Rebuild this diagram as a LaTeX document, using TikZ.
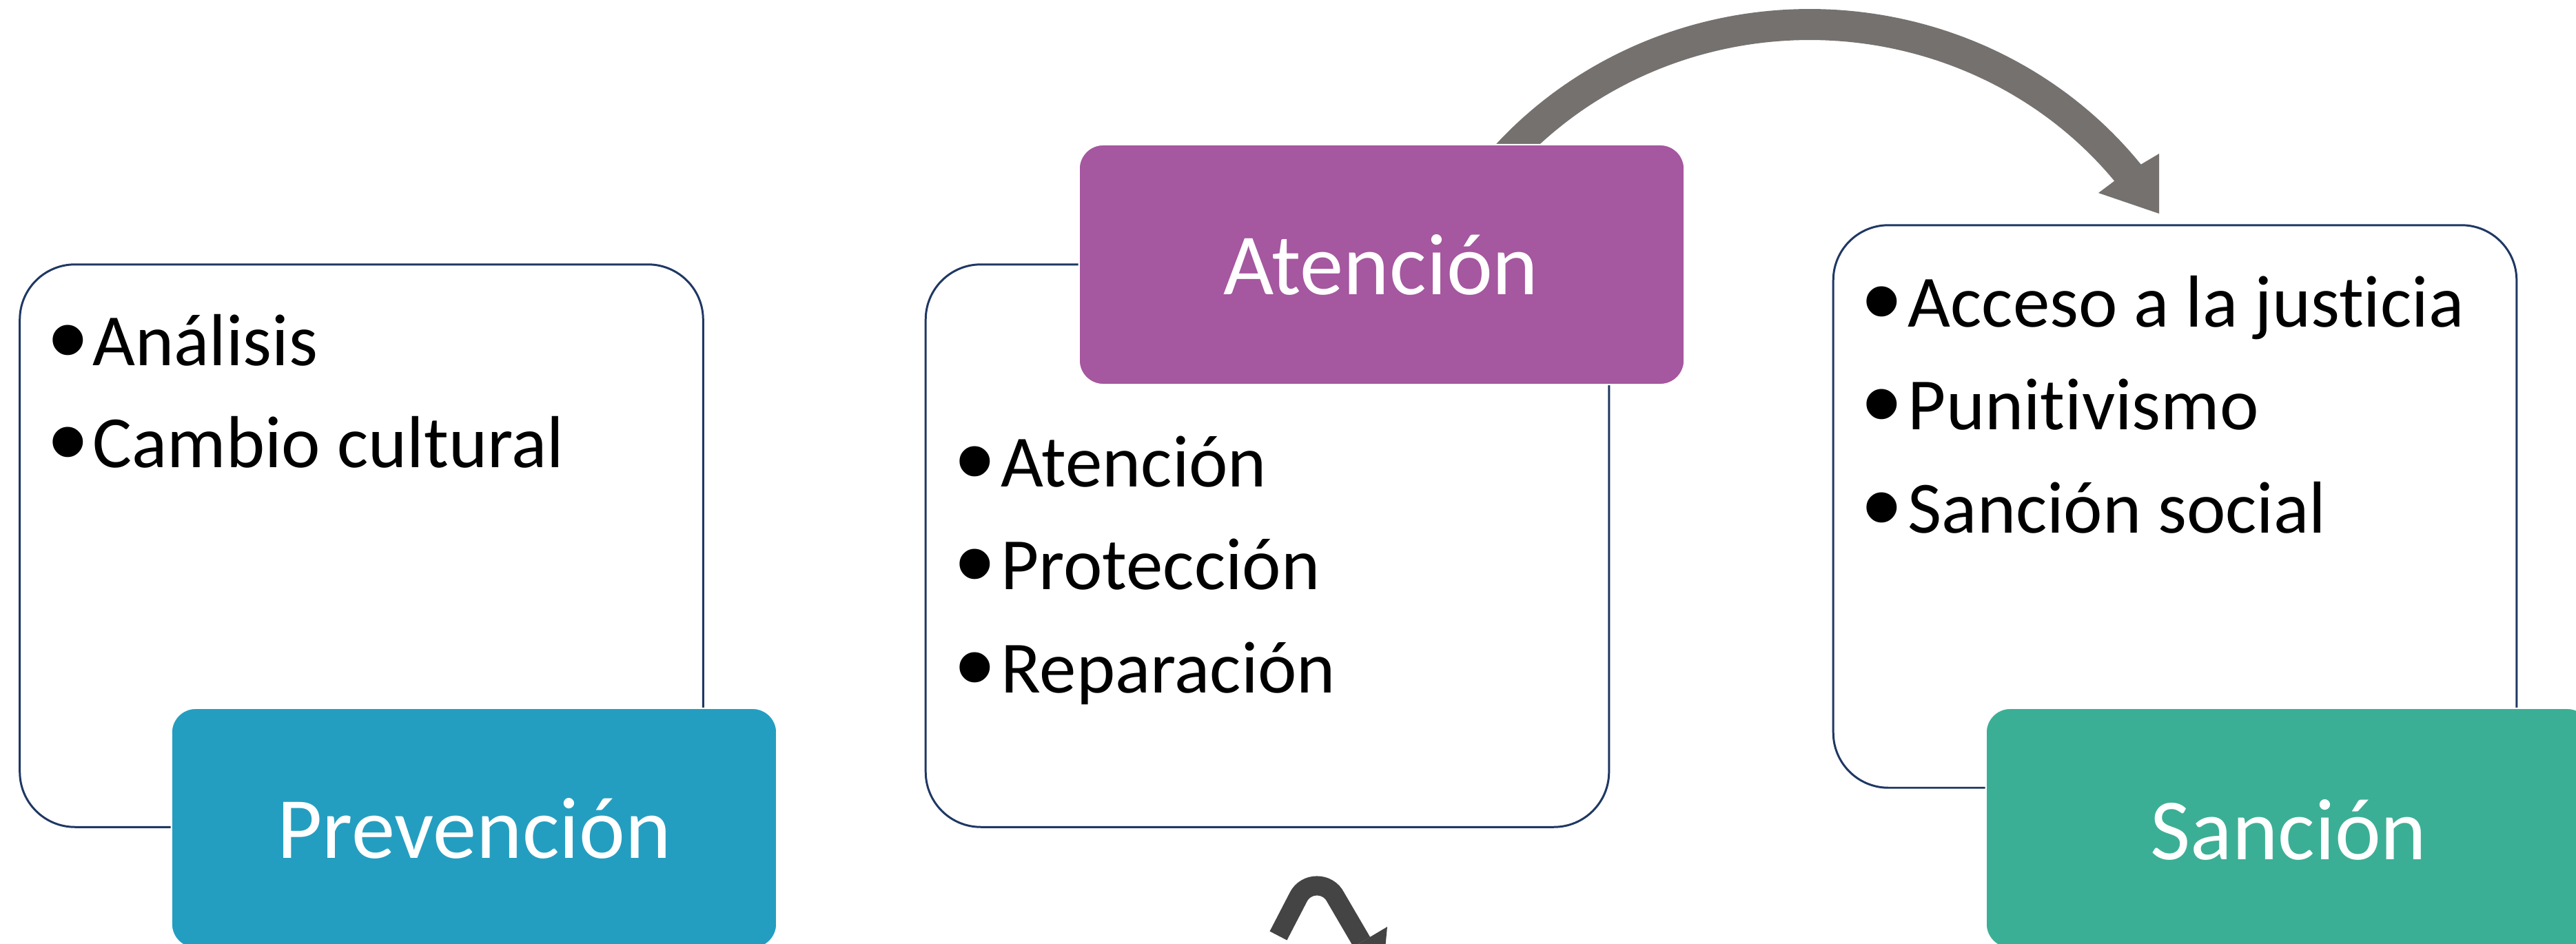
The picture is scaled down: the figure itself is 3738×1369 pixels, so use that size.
\documentclass[tikz,border=0pt]{standalone}
\usepackage{fontspec}
\setmainfont{Carlito}[Ligatures={TeX,NoCommon}]
\newfontfamily\bulfont{Liberation Sans}
\definecolor{navy}{HTML}{1F3864}
\definecolor{prevc}{HTML}{249EC0}
\definecolor{atenc}{HTML}{A5579F}
\definecolor{sancc}{HTML}{3BAF95}
\definecolor{arrowgray}{HTML}{75716F}
\definecolor{arrowdark}{HTML}{444444}
\tikzset{
  listbox/.style={draw=navy, line width=0.85pt, fill=white, rounded corners=0.8cm,
    minimum width=9.91cm, minimum height=8.16cm, inner sep=0pt, outer sep=0pt},
  headbox/.style={draw=white, line width=0.6pt, rounded corners=0.35cm,
    minimum width=8.78cm, minimum height=3.48cm, inner sep=0pt, outer sep=0pt},
  headtext/.style={text=white, font=\fontsize{36}{43}\selectfont, anchor=base, inner sep=0pt},
  itemtext/.style={font=\fontsize{30.4}{36}\selectfont, anchor=base west, inner sep=0pt},
  bulletmark/.style={font=\bulfont\fontsize{46}{50}\selectfont, anchor=base, inner sep=0pt},
}
\newcommand{\bul}{\raisebox{-5.1pt}{•}}
\begin{document}
\begin{tikzpicture}[x=0.01cm,y=-0.01cm]
\useasboundingbox (0,0) rectangle (3738,1369);
\fill[white] (0,0) rectangle (3738,1369);
\clip (0,0) rectangle (3738,1369);

% curved arrow over the top (Atencion -> Sancion)
\coordinate (tipA) at (3133,310);
\fill[arrowgray] plot[domain=217.8:322, samples=90] ({2626+610*cos(\x)},{600+587*sin(\x)})
  -- (3133,223) -- (tipA) -- (3045,280)
  -- plot[domain=321.5:221.6, samples=90] ({2626+565*cos(\x)},{600+542*sin(\x)}) -- cycle;

% small arrow at the bottom
\coordinate (tailB) at (1855,1358);
\coordinate (endB) at (1976,1367);
\draw[arrowdark, line width=8pt] (tailB) -- (1884,1302) .. controls (1895,1280) and (1927,1280) .. (1938,1302) -- (endB);
\fill[arrowdark] (2013,1345) -- (2006,1419) -- (1939,1389) -- cycle;

% list boxes
\node[listbox] (boxP) at (524.5,792) {};
\node[listbox] (boxA) at (1839,792) {};
\node[listbox] (boxS) at (3156,735) {};

% header boxes
\node[headbox, fill=prevc] (headP) at (688,1202) {};
\node[headbox, fill=atenc] (headA) at (2005,384) {};
\node[headbox, fill=sancc] (headS) at (3321,1202) {};

\node[headtext] (tP) at (688,1245) {Prevención};
\node[headtext] (tA) at (2004,427) {Atención};
\node[headtext] (tS) at (3321,1247) {Sanción};

% items: Prevencion
\node[bulletmark] (bP1) at (99,530) {\bul};
\node[itemtext] (iP1) at (134,530) {Análisis};
\node[bulletmark] (bP2) at (99,678) {\bul};
\node[itemtext] (iP2) at (134,678) {Cambio cultural};

% items: Atencion
\node[bulletmark] (bA1) at (1415,706) {\bul};
\node[itemtext] (iA1) at (1452,706) {Atención};
\node[bulletmark] (bA2) at (1415,855) {\bul};
\node[itemtext] (iA2) at (1452,855) {Protección};
\node[bulletmark] (bA3) at (1415,1005) {\bul};
\node[itemtext] (iA3) at (1452,1005) {Reparación};

% items: Sancion
\node[bulletmark] (bS1) at (2731,474) {\bul};
\node[itemtext] (iS1) at (2768,474) {Acceso a la justicia};
\node[bulletmark] (bS2) at (2731,623) {\bul};
\node[itemtext] (iS2) at (2768,623) {Punitivismo};
\node[bulletmark] (bS3) at (2731,773) {\bul};
\node[itemtext] (iS3) at (2768,773) {Sanción social};
\end{tikzpicture}
\end{document}
